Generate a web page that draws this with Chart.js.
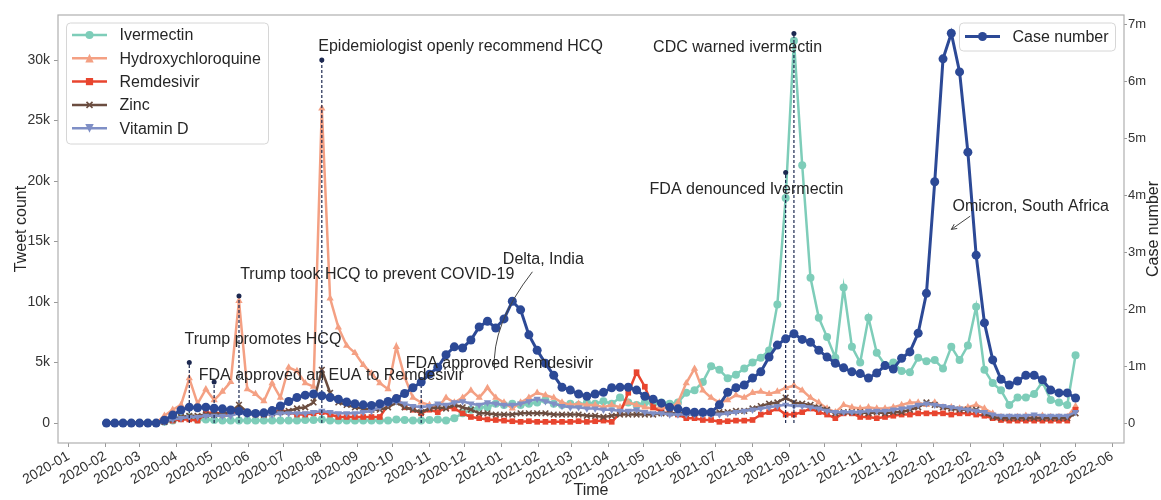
<!DOCTYPE html>
<html><head><meta charset="utf-8">
<script src="https://cdn.jsdelivr.net/npm/chart.js@4/dist/chart.umd.min.js"></script>
<style>html,body{margin:0;padding:0;background:#fff;} #wrap{width:1161px;height:500px;position:relative;}</style>
</head><body><div id="wrap"><canvas id="c" width="1161" height="500"></canvas></div>
<script>
const FONT = "'Liberation Sans', Arial, Helvetica, sans-serif";

// Weekly series starting 2020-02-02 (118 weeks). Tweet counts in thousands, cases in millions.
const firstWeek = [2020, 2, 2];
const caseNumber = [
 0,0,0,0,0,0,0,0.05,0.14,0.23,
 0.28,0.27,0.28,0.26,0.25,0.23,0.21,0.18,0.17,0.18,
 0.22,0.30,0.38,0.45,0.49,0.51,0.48,0.45,0.42,0.37,
 0.34,0.32,0.31,0.34,0.38,0.43,0.52,0.62,0.72,0.86,
 0.98,1.20,1.34,1.32,1.46,1.69,1.79,1.67,1.83,2.14,
 1.99,1.55,1.28,1.05,0.84,0.63,0.58,0.51,0.47,0.51,
 0.54,0.62,0.63,0.63,0.58,0.47,0.42,0.35,0.28,0.25,
 0.21,0.19,0.19,0.19,0.32,0.54,0.62,0.67,0.79,0.90,
 1.16,1.37,1.48,1.57,1.47,1.42,1.28,1.16,1.05,0.97,
 0.90,0.87,0.79,0.88,1.01,0.95,1.14,1.25,1.58,2.28,
 4.24,6.40,6.85,6.17,4.76,2.95,1.76,1.11,0.77,0.67,
 0.74,0.84,0.84,0.76,0.58,0.53,0.53,0.44];
const ivermectin = [
 0,0,0,0,0,0,0,0.1,0.2,0.4,
 0.5,0.3,0.3,0.25,0.2,0.2,0.2,0.2,0.2,0.2,
 0.2,0.2,0.2,0.2,0.25,0.25,0.3,0.2,0.2,0.2,
 0.2,0.2,0.2,0.2,0.2,0.3,0.25,0.2,0.2,0.25,
 0.3,0.2,0.4,0.8,1.1,1.3,1.3,1.6,1.5,1.6,
 1.5,1.6,1.7,1.9,1.6,1.5,1.6,1.5,1.7,1.6,
 1.8,1.6,2.1,1.7,1.5,1.7,1.6,1.7,1.6,1.7,
 2.5,2.7,3.4,4.7,4.4,3.7,4.0,4.5,5.0,5.4,
 6.0,9.8,18.6,31.6,21.3,12.0,8.7,7.1,5.4,11.2,
 6.3,5.0,8.7,5.8,4.8,5.0,4.3,4.2,5.4,5.1,
 5.2,4.5,6.3,5.2,6.4,9.6,4.4,3.3,2.7,1.5,
 2.1,2.1,2.4,3.4,1.9,1.7,1.5,5.6];
const hydroxychloroquine = [
 0,0,0,0,0,0,0,0.6,1.1,1.5,
 3.7,1.6,2.8,1.9,2.6,3.4,10.1,2.8,2.4,1.8,
 3.3,2.1,4.6,4.3,3.3,3.0,26.0,10.3,7.9,6.4,
 5.8,4.8,4.1,3.3,2.8,6.3,3.8,2.1,1.7,1.5,
 1.3,2.1,1.7,2.1,2.7,2.1,2.9,2.1,1.7,1.2,
 1.7,2.1,2.5,2.3,2.1,1.7,1.5,1.6,1.5,1.5,
 1.3,1.5,1.3,1.7,1.5,1.3,1.2,1.3,1.2,1.7,
 3.3,4.5,2.7,2.1,1.7,1.9,2.3,2.1,2.5,2.6,
 2.4,2.6,2.9,3.1,2.7,2.1,1.7,1.2,0.9,1.5,
 1.3,1.2,1.3,1.2,1.2,1.3,1.5,1.7,1.7,1.5,
 1.7,1.3,1.3,1.2,1.3,1.5,1.2,0.8,0.5,0.5,
 0.5,0.6,0.5,0.6,0.5,0.5,0.5,1.4];
const remdesivir = [
 0,0,0,0,0,0,0,0.1,0.2,0.3,
 0.3,0.2,0.8,0.9,0.7,0.8,0.9,0.8,0.7,0.7,
 0.8,1.1,0.9,0.7,0.7,0.8,0.9,0.7,0.5,0.5,
 0.5,0.5,0.5,0.5,1.5,2.1,1.3,1.1,0.8,1.1,
 0.9,1.3,1.2,0.8,0.5,0.4,0.3,0.25,0.2,0.15,
 0.1,0.15,0.1,0.1,0.1,0.1,0.1,0.15,0.1,0.15,
 0.2,0.1,0.8,2.5,4.2,3.0,1.3,0.9,0.8,0.7,
 0.4,0.4,0.25,0.25,0.1,0.15,0.2,0.2,0.25,0.7,
 0.9,1.2,0.7,0.7,0.9,1.2,0.9,0.7,0.4,0.8,
 0.8,0.5,0.5,0.4,0.5,0.6,0.7,0.7,0.8,0.8,
 0.8,0.8,0.7,0.8,0.8,0.7,0.6,0.4,0.25,0.2,
 0.2,0.2,0.2,0.2,0.2,0.2,0.2,1.1];
const zinc = [
 0,0,0,0,0,0,0,0.1,0.3,0.5,
 0.6,0.6,0.7,0.7,0.8,0.9,1.5,0.9,0.8,0.7,
 0.8,0.9,1.0,1.2,1.3,1.7,4.4,2.5,1.7,1.5,
 1.3,1.2,1.1,1.1,1.3,1.7,1.3,1.1,0.9,1.2,
 1.3,1.2,1.5,1.3,1.1,0.8,0.8,0.7,0.7,0.7,
 0.8,0.8,0.8,0.8,0.7,0.7,0.7,0.7,0.6,0.6,
 0.5,0.6,0.7,0.7,0.7,0.7,0.7,0.8,0.8,0.8,
 0.8,0.8,0.8,0.8,0.9,0.9,1.0,1.0,1.2,1.4,
 1.6,1.7,2.1,1.7,1.6,1.5,1.3,1.1,0.8,0.9,
 0.9,0.9,0.8,0.9,0.8,0.9,0.9,1.1,1.3,1.7,
 1.5,1.3,1.2,1.1,1.1,1.1,0.8,0.5,0.4,0.4,
 0.4,0.4,0.4,0.4,0.4,0.4,0.4,0.8];
const vitaminD = [
 0,0,0,0,0,0,0,0.1,0.3,0.4,
 0.5,0.5,0.6,0.6,0.6,0.6,0.8,0.7,0.7,0.7,
 0.7,0.8,0.8,0.8,0.8,0.9,1.0,0.9,0.8,0.8,
 0.8,0.9,1.0,1.3,1.6,1.8,1.6,1.4,1.3,1.4,
 1.6,1.5,1.7,1.8,1.6,1.5,1.7,1.6,1.5,1.5,
 1.6,1.8,2.0,1.8,1.6,1.4,1.3,1.3,1.2,1.2,
 1.1,1.1,1.0,1.0,1.1,0.9,0.8,0.8,0.7,0.7,
 0.7,0.7,0.7,0.7,0.7,0.8,0.9,1.0,1.1,1.2,
 1.3,1.4,1.5,1.4,1.4,1.3,1.2,1.0,0.9,0.9,
 0.9,0.9,1.0,1.0,1.0,1.1,1.2,1.3,1.5,1.6,
 1.5,1.4,1.3,1.2,1.1,1.0,0.9,0.7,0.6,0.6,
 0.6,0.6,0.7,0.6,0.6,0.6,0.6,0.9];

const weeks = caseNumber.map((_, i) =>
  new Date(Date.UTC(firstWeek[0], firstWeek[1] - 1, firstWeek[2] + 7 * i)).toISOString().slice(0, 10));

const monthTicks = ['2020-01','2020-02','2020-03','2020-04','2020-05','2020-06','2020-07','2020-08','2020-09','2020-10','2020-11','2020-12',
 '2021-01','2021-02','2021-03','2021-04','2021-05','2021-06','2021-07','2021-08','2021-09','2021-10','2021-11','2021-12',
 '2022-01','2022-02','2022-03','2022-04','2022-05','2022-06'];
const tweetTicks = [0, 5, 10, 15, 20, 25, 30];
const caseTicks = [0, 1, 2, 3, 4, 5, 6, 7];

// Event markers (dashed vertical lines), heights in thousand tweets
const eventDates = ['2020-04-12','2020-05-03','2020-05-24','2020-08-02','2020-10-25','2021-08-29','2021-09-05'];
const eventHeights = [5.0, 3.4, 10.5, 30.0, 3.6, 20.7, 32.2];

// Text annotations anchored in data coordinates (left edge, vertical centre)
const annotations = [
 {text:'Epidemiologist openly recommend HCQ', date:'2020-07-30', value:31.1},
 {text:'CDC warned ivermectin', date:'2021-05-09', value:31.0},
 {text:'FDA denounced Ivermectin', date:'2021-05-06', value:19.3},
 {text:'Omicron, South Africa', date:'2022-01-17', value:17.9},
 {text:'Delta, India', date:'2021-01-02', value:13.5},
 {text:'Trump took HCQ to prevent COVID-19', date:'2020-05-25', value:12.3},
 {text:'Trump promotes HCQ', date:'2020-04-08', value:6.9},
 {text:'FDA approved an EUA to Remdesivir', date:'2020-04-20', value:3.9},
 {text:'FDA approved Remdesivir', date:'2020-10-12', value:4.9}
];
const deltaCurve = {from:['2021-01-27',12.5], ctrl:['2020-12-23',8.1], to:['2020-12-26',4.4]};
const omicronArrow = {from:['2022-02-01',17.1], to:['2022-01-16',16.0]};

function dayNum(s) {
  const p = s.split('-').map(Number);
  return (Date.UTC(p[0], p[1] - 1, p[2] || 1) - Date.UTC(2020, 0, 1)) / 864e5;
}

const series = [
 {label:'Ivermectin', data:ivermectin, color:'#7ecdb9', style:'circle', r:4, rot:0},
 {label:'Hydroxychloroquine', data:hydroxychloroquine, color:'#f4a083', style:'triangle', r:4.2, rot:0},
 {label:'Remdesivir', data:remdesivir, color:'#e8452f', style:'rect', r:4, rot:0},
 {label:'Zinc', data:zinc, color:'#6b4d40', style:'crossRot', r:4, rot:0},
 {label:'Vitamin D', data:vitaminD, color:'#7f8fc6', style:'triangle', r:4.2, rot:180}
];
const caseStyle = {label:'Case number', color:'#2c4996', style:'circle', r:4.5};

const datasets = [];
datasets.push({
  label: caseStyle.label, yAxisID:'y2', order:0,
  data: weeks.map((w, i) => ({x: dayNum(w), y: caseNumber[i]})),
  borderColor: caseStyle.color, backgroundColor: caseStyle.color, borderWidth: 3,
  pointStyle:'circle', pointRadius: caseStyle.r, pointBorderWidth: 0
});
const evData = [];
eventDates.forEach((d, i) => {
  evData.push({x: dayNum(d), y: 0}, {x: dayNum(d), y: eventHeights[i]}, {x: dayNum(d), y: null});
});
datasets.push({
  label:'events', yAxisID:'y', order:1, data: evData, spanGaps:false,
  borderColor:'#1c2850', backgroundColor:'#1c2850', borderWidth:1.2, borderDash:[3,2],
  pointRadius: c => (c.dataIndex % 3 === 1 ? 2.5 : 0), pointBorderWidth:0
});
series.forEach((s, k) => {
  datasets.push({
    label: s.label, yAxisID:'y', order: 6 - k,
    data: weeks.map((w, i) => ({x: dayNum(w), y: s.data[i]})),
    borderColor: s.color, backgroundColor: s.color, borderWidth: 2.5,
    pointStyle: s.style, pointRadius: s.r, pointRotation: s.rot,
    pointBorderWidth: s.style === 'crossRot' ? 1.6 : 0, pointBorderColor: s.color
  });
});

function drawMarker(ctx, style, x, y, r, color, rot) {
  ctx.save();
  ctx.fillStyle = color; ctx.strokeStyle = color; ctx.lineWidth = 1.6;
  ctx.translate(x, y); ctx.rotate((rot || 0) * Math.PI / 180);
  ctx.beginPath();
  if (style === 'circle') { ctx.arc(0, 0, r, 0, Math.PI * 2); ctx.fill(); }
  else if (style === 'rect') { ctx.fillRect(-r * 0.9, -r * 0.9, r * 1.8, r * 1.8); }
  else if (style === 'triangle') {
    ctx.moveTo(0, -r * 1.1); ctx.lineTo(r, r); ctx.lineTo(-r, r); ctx.closePath(); ctx.fill();
  } else if (style === 'crossRot') {
    const d = r * 0.75;
    ctx.moveTo(-d, -d); ctx.lineTo(d, d); ctx.moveTo(d, -d); ctx.lineTo(-d, d); ctx.stroke();
  }
  ctx.restore();
}

function legendBox(ctx, x, y, w, h) {
  const rr = 4;
  ctx.save();
  ctx.beginPath();
  ctx.moveTo(x + rr, y); ctx.lineTo(x + w - rr, y); ctx.quadraticCurveTo(x + w, y, x + w, y + rr);
  ctx.lineTo(x + w, y + h - rr); ctx.quadraticCurveTo(x + w, y + h, x + w - rr, y + h);
  ctx.lineTo(x + rr, y + h); ctx.quadraticCurveTo(x, y + h, x, y + h - rr);
  ctx.lineTo(x, y + rr); ctx.quadraticCurveTo(x, y, x + rr, y); ctx.closePath();
  ctx.fillStyle = 'rgba(255,255,255,0.85)'; ctx.fill();
  ctx.strokeStyle = '#d6d6d6'; ctx.lineWidth = 1; ctx.stroke();
  ctx.restore();
}

function legendItem(ctx, x, y, s, lw) {
  ctx.save();
  ctx.strokeStyle = s.color; ctx.lineWidth = lw;
  ctx.beginPath(); ctx.moveTo(x, y); ctx.lineTo(x + 35, y); ctx.stroke();
  drawMarker(ctx, s.style, x + 17.5, y, s.r, s.color, s.rot);
  ctx.fillStyle = '#262626'; ctx.font = '16px ' + FONT; ctx.textAlign = 'left'; ctx.textBaseline = 'middle';
  ctx.fillText(s.label, x + 47.5, y + 1);
  ctx.restore();
}

const overlay = {
  id: 'overlay',
  beforeDatasetsDraw(chart) {
    const {ctx, chartArea: a} = chart;
    ctx.save(); ctx.strokeStyle = '#b0b0b0'; ctx.lineWidth = 1.2;
    ctx.strokeRect(a.left, a.top, a.right - a.left, a.bottom - a.top);
    ctx.restore();
  },
  afterDatasetsDraw(chart) {
    const {ctx, scales: {x, y}} = chart;
    const px = d => x.getPixelForValue(dayNum(d));
    const py = v => y.getPixelForValue(v);
    ctx.save();
    ctx.strokeStyle = '#444'; ctx.lineWidth = 1;
    ctx.beginPath();
    ctx.moveTo(px(deltaCurve.from[0]), py(deltaCurve.from[1]));
    ctx.quadraticCurveTo(px(deltaCurve.ctrl[0]), py(deltaCurve.ctrl[1]), px(deltaCurve.to[0]), py(deltaCurve.to[1]));
    ctx.stroke();
    const ax0 = px(omicronArrow.from[0]), ay0 = py(omicronArrow.from[1]);
    const ax1 = px(omicronArrow.to[0]), ay1 = py(omicronArrow.to[1]);
    ctx.beginPath(); ctx.moveTo(ax0, ay0); ctx.lineTo(ax1, ay1); ctx.stroke();
    const ang = Math.atan2(ay1 - ay0, ax1 - ax0);
    ctx.beginPath();
    ctx.moveTo(ax1 - 6 * Math.cos(ang - 0.45), ay1 - 6 * Math.sin(ang - 0.45));
    ctx.lineTo(ax1, ay1);
    ctx.lineTo(ax1 - 6 * Math.cos(ang + 0.45), ay1 - 6 * Math.sin(ang + 0.45));
    ctx.stroke();
    ctx.font = '16px ' + FONT; ctx.fillStyle = '#262626'; ctx.textAlign = 'left'; ctx.textBaseline = 'middle';
    annotations.forEach(a => ctx.fillText(a.text, px(a.date), py(a.value)));
    ctx.restore();
  },
  afterDraw(chart) {
    const {ctx, chartArea: a} = chart;
    const lx = a.left + 8.5, ly = a.top + 8;
    legendBox(ctx, lx, ly, 202, 121);
    series.forEach((s, k) => legendItem(ctx, lx + 5.5, ly + 12 + k * 23.3, s, 2.5));
    const rx = a.right - 8.5 - 156, ry = a.top + 8;
    legendBox(ctx, rx, ry, 156, 28);
    legendItem(ctx, rx + 5.5, ry + 13.5, {label: caseStyle.label, color: caseStyle.color, style:'circle', r:4.5, rot:0}, 3);
    ctx.save();
    ctx.translate(1154, (a.top + a.bottom) / 2);
    ctx.rotate(-Math.PI / 2);
    ctx.font = '16px ' + FONT; ctx.fillStyle = '#262626'; ctx.textAlign = 'center'; ctx.textBaseline = 'middle';
    ctx.fillText('Case number', 0, 0);
    ctx.restore();
  }
};

const tickFont = {family: FONT, size: 14};
new Chart(document.getElementById('c'), {
  type: 'line',
  data: {datasets},
  plugins: [overlay],
  options: {
    responsive: false, animation: false, devicePixelRatio: 1, events: [],
    layout: {padding: {top: 15, left: 0, right: 0, bottom: 0}},
    elements: {line: {tension: 0}},
    plugins: {legend: {display: false}, tooltip: {enabled: false}},
    scales: {
      x: {
        type: 'linear', min: -8.95, max: 891.95,
        afterBuildTicks: s => { s.ticks = monthTicks.map(m => ({value: dayNum(m)})); },
        afterFit: s => { s.height = 57; },
        ticks: {autoSkip: false, minRotation: 30, maxRotation: 30, font: tickFont, color: '#333', padding: 1,
                callback: (v, i) => monthTicks[i]},
        grid: {drawOnChartArea: false, drawTicks: true, tickLength: 4, tickColor: '#999'},
        border: {display: false},
        title: {display: true, text: 'Time', font: {family: FONT, size: 16}, color: '#262626', padding: {top: 0, bottom: 0}}
      },
      y: {
        type: 'linear', position: 'left', min: -1.65, max: 33.72,
        afterBuildTicks: s => { s.ticks = tweetTicks.map(v => ({value: v})); },
        afterFit: s => { s.width = 58; },
        ticks: {font: tickFont, color: '#333', padding: 4, callback: v => (v === 0 ? '0' : v + 'k')},
        grid: {drawOnChartArea: false, drawTicks: true, tickLength: 4, tickColor: '#999'},
        border: {display: false},
        title: {display: true, text: 'Tweet count', font: {family: FONT, size: 16}, color: '#262626', padding: {top: 12, bottom: 0}}
      },
      y2: {
        type: 'linear', position: 'right', min: -0.35, max: 7.17,
        afterBuildTicks: s => { s.ticks = caseTicks.map(v => ({value: v})); },
        afterFit: s => { s.width = 37; },
        ticks: {font: {family: FONT, size: 13}, color: '#333', padding: 1, callback: v => (v === 0 ? '0' : v + 'm')},
        grid: {drawOnChartArea: false, drawTicks: true, tickLength: 3, tickColor: '#999'},
        border: {display: false}
      }
    }
  }
});
</script>
</body></html>
